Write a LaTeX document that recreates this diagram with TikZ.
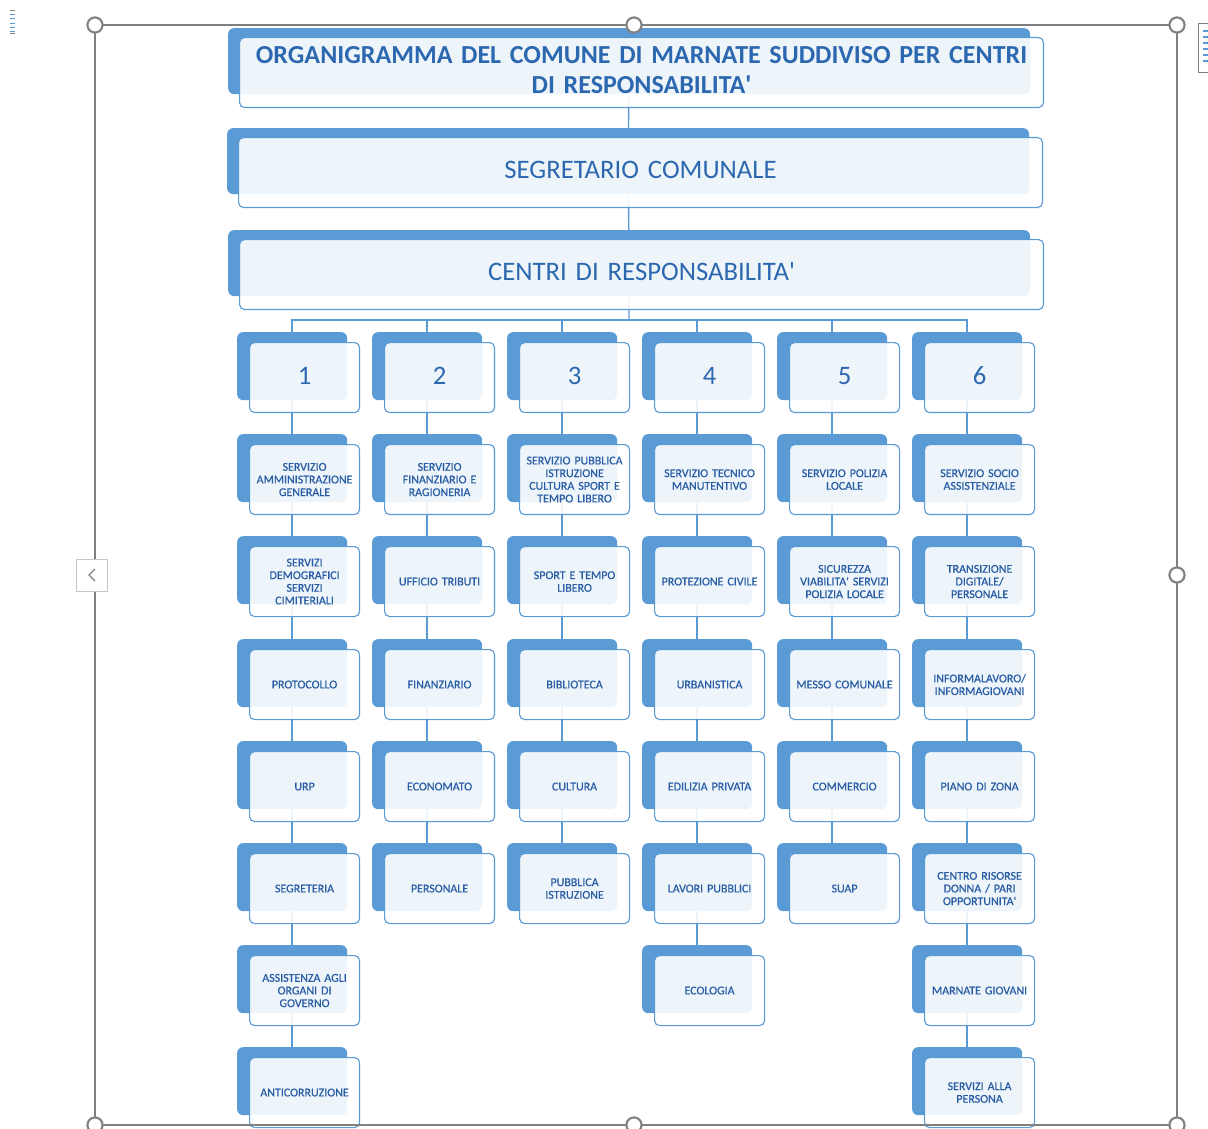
\documentclass[tikz,border=0pt]{standalone}
\usepackage{fontspec}
\setmainfont{Carlito}
\newfontfamily\cellfont[FakeBold=0.6]{Carlito}
\usetikzlibrary{backgrounds}

\definecolor{orgblue}{RGB}{91,155,213}
\definecolor{orgtext}{RGB}{44,104,176}
\definecolor{celltext}{RGB}{40,92,165}
\definecolor{selgray}{RGB}{128,128,128}

\newcommand{\ap}{\textquotesingle}
% box pair: [front options] name, left, top, kind, text
\newcommand{\orgbox}[6][]{%
  \node[#5back] (#2b) at (#3,#4) {};
  \node[#5front,#1] (#2) at (#3,#4) {#6};
}

\begin{document}
\begin{tikzpicture}[x=0.05cm,y=-0.05cm,
    back/.style={anchor=north west,fill=orgblue,rounded corners=0.3cm,inner sep=0pt},
    front/.style={anchor=north west,draw=orgblue,line width=1.6pt,fill=white,
      fill opacity=0.9,text opacity=1,rounded corners=0.25cm,inner sep=0pt,
      align=center,text=orgtext},
    bigback/.style={back,minimum width=40.1cm,minimum height=3.3cm},
    bigfront/.style={front,minimum width=40.2cm,minimum height=3.5cm,
      xshift=0.55cm,yshift=-0.45cm,text width=39.5cm,text depth=8.5pt,
      font=\fontsize{38}{40}\selectfont},
    cellback/.style={back,minimum width=5.5cm,minimum height=3.4cm},
    cellfront/.style={front,minimum width=5.5cm,minimum height=3.5cm,
      xshift=0.6cm,yshift=-0.5cm,text width=5.3cm,text=celltext,
      font=\cellfont\fontsize{17}{18}\selectfont},
    numback/.style={cellback},
    numfront/.style={cellfront,text=orgtext,text depth=5.7pt,
      font=\rmfamily\fontsize{38}{40}\selectfont},
    wire/.style={draw=orgblue,line width=2pt},
    handle/.style={draw=selgray,line width=3pt,fill=white}
  ]
  \useasboundingbox (0,0) rectangle (1208,1129);

  % top of the chart
  \orgbox[font=\fontsize{37}{42.5}\selectfont\bfseries,text depth=51pt]{tit}{228}{28}{big}
    {ORGANIGRAMMA DEL COMUNE DI MARNATE SUDDIVISO PER CENTRI\\DI RESPONSABILITA\ap}
  \orgbox{seg}{227}{128}{big}{SEGRETARIO COMUNALE}
  \orgbox{cen}{228}{230}{big}{CENTRI DI RESPONSABILITA\ap}

  % centre 1
  \orgbox{num1}{237}{332}{num}{1}
  \orgbox{sv11}{237}{434}{cell}{SERVIZIO\\AMMINISTRAZIONE\\GENERALE}
  \orgbox{sv12}{237}{536}{cell}{SERVIZI\\DEMOGRAFICI\\SERVIZI\\CIMITERIALI}
  \orgbox{sv13}{237}{639}{cell}{PROTOCOLLO}
  \orgbox{sv14}{237}{741}{cell}{URP}
  \orgbox{sv15}{237}{843}{cell}{SEGRETERIA}
  \orgbox{sv16}{237}{945}{cell}{ASSISTENZA AGLI\\ORGANI DI\\GOVERNO}
  \orgbox{sv17}{237}{1047}{cell}{ANTICORRUZIONE}

  % centre 2
  \orgbox{num2}{372}{332}{num}{2}
  \orgbox{sv21}{372}{434}{cell}{SERVIZIO\\FINANZIARIO E\\RAGIONERIA}
  \orgbox{sv22}{372}{536}{cell}{UFFICIO TRIBUTI}
  \orgbox{sv23}{372}{639}{cell}{FINANZIARIO}
  \orgbox{sv24}{372}{741}{cell}{ECONOMATO}
  \orgbox{sv25}{372}{843}{cell}{PERSONALE}

  % centre 3
  \orgbox{num3}{507}{332}{num}{3}
  \orgbox{sv31}{507}{434}{cell}{SERVIZIO PUBBLICA\\ISTRUZIONE\\CULTURA SPORT E\\TEMPO LIBERO}
  \orgbox{sv32}{507}{536}{cell}{SPORT E TEMPO\\LIBERO}
  \orgbox{sv33}{507}{639}{cell}{BIBLIOTECA}
  \orgbox{sv34}{507}{741}{cell}{CULTURA}
  \orgbox{sv35}{507}{843}{cell}{PUBBLICA\\ISTRUZIONE}

  % centre 4
  \orgbox{num4}{642}{332}{num}{4}
  \orgbox{sv41}{642}{434}{cell}{SERVIZIO TECNICO\\MANUTENTIVO}
  \orgbox{sv42}{642}{536}{cell}{PROTEZIONE CIVILE}
  \orgbox{sv43}{642}{639}{cell}{URBANISTICA}
  \orgbox{sv44}{642}{741}{cell}{EDILIZIA PRIVATA}
  \orgbox{sv45}{642}{843}{cell}{LAVORI PUBBLICI}
  \orgbox{sv46}{642}{945}{cell}{ECOLOGIA}

  % centre 5
  \orgbox{num5}{777}{332}{num}{5}
  \orgbox{sv51}{777}{434}{cell}{SERVIZIO POLIZIA\\LOCALE}
  \orgbox{sv52}{777}{536}{cell}{SICUREZZA\\VIABILITA\ap{} SERVIZI\\POLIZIA LOCALE}
  \orgbox{sv53}{777}{639}{cell}{MESSO COMUNALE}
  \orgbox{sv54}{777}{741}{cell}{COMMERCIO}
  \orgbox{sv55}{777}{843}{cell}{SUAP}

  % centre 6
  \orgbox{num6}{912}{332}{num}{6}
  \orgbox{sv61}{912}{434}{cell}{SERVIZIO SOCIO\\ASSISTENZIALE}
  \orgbox{sv62}{912}{536}{cell}{TRANSIZIONE\\DIGITALE/\\PERSONALE}
  \orgbox{sv63}{912}{639}{cell}{INFORMALAVORO/\\INFORMAGIOVANI}
  \orgbox{sv64}{912}{741}{cell}{PIANO DI ZONA}
  \orgbox{sv65}{912}{843}{cell}{CENTRO RISORSE\\DONNA / PARI\\OPPORTUNITA\ap}
  \orgbox{sv66}{912}{945}{cell}{MARNATE GIOVANI}
  \orgbox{sv67}{912}{1047}{cell}{SERVIZI ALLA\\PERSONA}

  \begin{scope}[on background layer]
    \coordinate (bus) at (629,320);
    \draw[wire] (titb) -- (segb) -- (cenb) -- (bus);
    \draw[wire] (bus) -| (num1b.center);
    \draw[wire] (bus) -| (num2b.center);
    \draw[wire] (bus) -| (num3b.center);
    \draw[wire] (bus) -| (num4b.center);
    \draw[wire] (bus) -| (num5b.center);
    \draw[wire] (bus) -| (num6b.center);
    \draw[wire] (num1b) -- (sv11b) -- (sv12b) -- (sv13b) -- (sv14b) -- (sv15b) -- (sv16b) -- (sv17b);
    \draw[wire] (num2b) -- (sv21b) -- (sv22b) -- (sv23b) -- (sv24b) -- (sv25b);
    \draw[wire] (num3b) -- (sv31b) -- (sv32b) -- (sv33b) -- (sv34b) -- (sv35b);
    \draw[wire] (num4b) -- (sv41b) -- (sv42b) -- (sv43b) -- (sv44b) -- (sv45b) -- (sv46b);
    \draw[wire] (num5b) -- (sv51b) -- (sv52b) -- (sv53b) -- (sv54b) -- (sv55b);
    \draw[wire] (num6b) -- (sv61b) -- (sv62b) -- (sv63b) -- (sv64b) -- (sv65b) -- (sv66b) -- (sv67b);
  \end{scope}

  % selection frame
  \draw[selgray,line width=2.2pt] (95,25) rectangle (1177,1125);
  \node[draw=black!22,line width=1.2pt,fill=white,minimum width=1.55cm,minimum height=1.6cm] (prev) at (91.5,575) {};
  \draw[selgray,line width=2pt] (95,569) -- (89,575) -- (95,581);
  \foreach \hx/\hy in {95/25,634/25,1177/25,1177/575,95/1125,634/1125,1177/1125}
    \draw[handle] (\hx,\hy) circle[radius=0.38cm];
  \draw[selgray,line width=1.4pt] (1212,23) -- (1198,23) -- (1198,72) -- (1212,72);
  \foreach \ly in {31,37,43,49,55,61}
    \draw[orgblue,line width=1.6pt] (1203,\ly) -- (1210,\ly);
  \foreach \ly in {14,18,23,27,31}
    \draw[orgblue,line width=1.4pt] (10,\ly) -- (15,\ly);
  \draw[selgray,line width=1.4pt] (10,10) -- (15,10) (10,33) -- (15,33);
\end{tikzpicture}
\end{document}
